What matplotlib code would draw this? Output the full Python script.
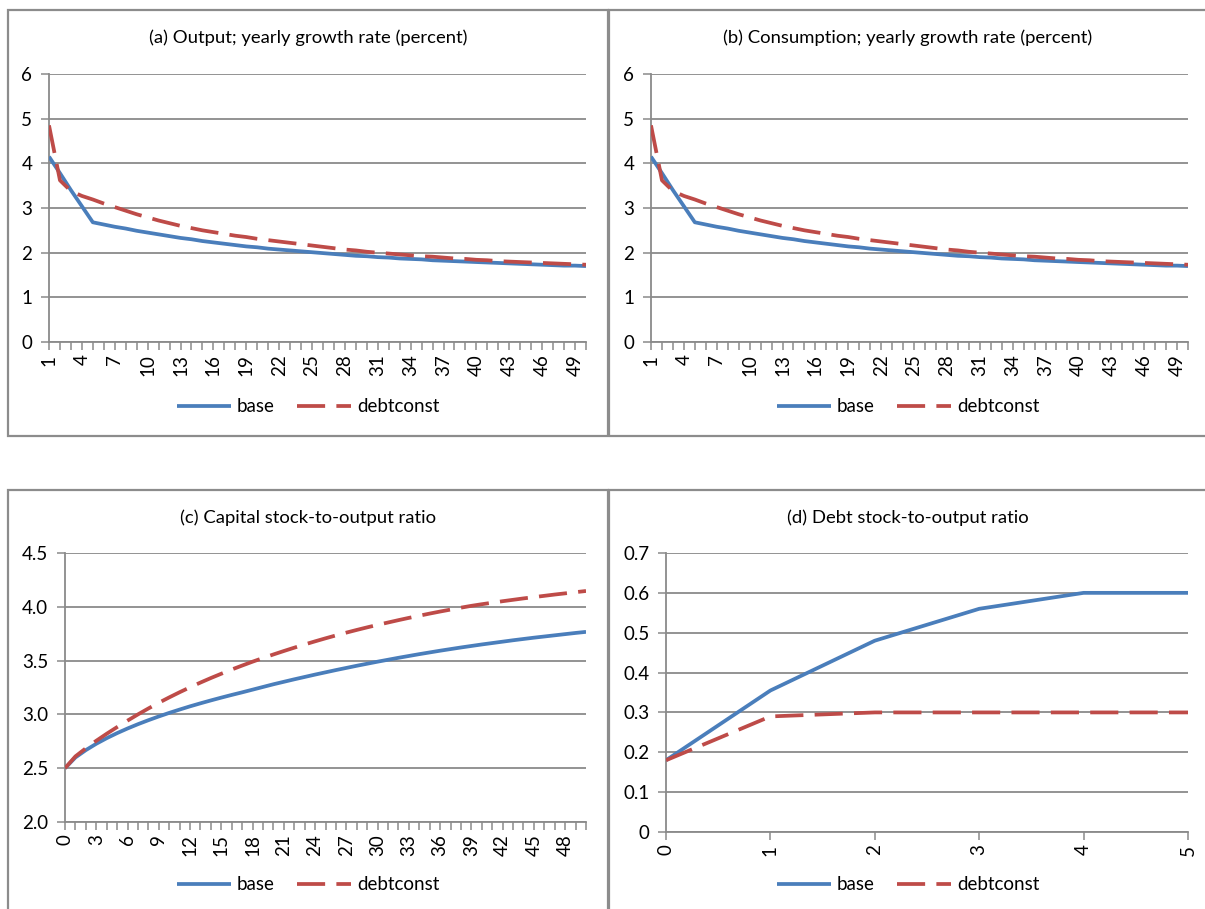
import matplotlib.pyplot as plt
import numpy as np
from matplotlib.patches import Rectangle

plt.rcParams['font.family'] = ['Lato', 'DejaVu Sans']

# growth rates, periods 1..50 (panels a and b)
periods = list(range(1, 51))
output_base = [4.15, 3.78, 3.40, 3.04, 2.68, 2.63, 2.58, 2.54, 2.49, 2.45,
               2.41, 2.37, 2.33, 2.30, 2.26, 2.23, 2.20, 2.17, 2.14, 2.12,
               2.09, 2.07, 2.05, 2.03, 2.01, 1.99, 1.97, 1.95, 1.93, 1.92,
               1.90, 1.89, 1.87, 1.86, 1.85, 1.83, 1.82, 1.81, 1.80, 1.79,
               1.78, 1.77, 1.76, 1.75, 1.74, 1.73, 1.72, 1.71, 1.71, 1.70]
output_debt = [4.85, 3.62, 3.38, 3.27, 3.19, 3.10, 3.02, 2.94, 2.86, 2.79,
               2.72, 2.66, 2.60, 2.55, 2.50, 2.46, 2.42, 2.38, 2.35, 2.31,
               2.28, 2.25, 2.22, 2.19, 2.16, 2.13, 2.10, 2.07, 2.05, 2.02,
               2.00, 1.98, 1.96, 1.94, 1.92, 1.91, 1.89, 1.87, 1.86, 1.84,
               1.83, 1.81, 1.80, 1.79, 1.78, 1.77, 1.76, 1.75, 1.74, 1.73]
cons_base = [4.15, 3.78, 3.40, 3.04, 2.68, 2.63, 2.58, 2.54, 2.49, 2.45,
             2.41, 2.37, 2.33, 2.30, 2.26, 2.23, 2.20, 2.17, 2.14, 2.12,
             2.09, 2.07, 2.05, 2.03, 2.01, 1.99, 1.97, 1.95, 1.93, 1.92,
             1.90, 1.89, 1.87, 1.86, 1.85, 1.83, 1.82, 1.81, 1.80, 1.79,
             1.78, 1.77, 1.76, 1.75, 1.74, 1.73, 1.72, 1.71, 1.71, 1.70]
cons_debt = [4.85, 3.62, 3.38, 3.27, 3.19, 3.10, 3.02, 2.94, 2.86, 2.79,
             2.72, 2.66, 2.60, 2.55, 2.50, 2.46, 2.42, 2.38, 2.35, 2.31,
             2.28, 2.25, 2.22, 2.19, 2.16, 2.13, 2.10, 2.07, 2.05, 2.02,
             2.00, 1.98, 1.96, 1.94, 1.92, 1.91, 1.89, 1.87, 1.86, 1.84,
             1.83, 1.81, 1.80, 1.79, 1.78, 1.77, 1.76, 1.75, 1.74, 1.73]

# capital stock-to-output, periods 0..50 (panel c)
years = list(range(0, 51))
capital_base = [2.500, 2.600, 2.668, 2.727, 2.779, 2.826, 2.869, 2.909, 2.946, 2.981,
                3.014, 3.045, 3.075, 3.103, 3.130, 3.156, 3.181, 3.205, 3.230, 3.255,
                3.280, 3.303, 3.326, 3.348, 3.370, 3.391, 3.412, 3.432, 3.452, 3.471,
                3.490, 3.508, 3.526, 3.543, 3.560, 3.576, 3.592, 3.607, 3.622, 3.636,
                3.650, 3.663, 3.676, 3.689, 3.701, 3.713, 3.724, 3.735, 3.746, 3.757,
                3.767]
capital_debt = [2.500, 2.610, 2.685, 2.755, 2.820, 2.882, 2.942, 3.000, 3.055, 3.108,
                3.158, 3.206, 3.252, 3.296, 3.338, 3.378, 3.417, 3.454, 3.490, 3.524,
                3.557, 3.589, 3.620, 3.650, 3.679, 3.707, 3.734, 3.760, 3.785, 3.809,
                3.832, 3.854, 3.876, 3.897, 3.917, 3.937, 3.956, 3.974, 3.992, 4.009,
                4.024, 4.038, 4.052, 4.065, 4.078, 4.090, 4.102, 4.114, 4.125, 4.136,
                4.147]

# debt stock-to-output, periods 0..5 (panel d)
debt_years = [0, 1, 2, 3, 4, 5]
debt_base = [0.18, 0.355, 0.48, 0.56, 0.60, 0.60]
debt_debt = [0.18, 0.29, 0.30, 0.30, 0.30, 0.30]

titles = ["(a) Output; yearly growth rate (percent)",
          "(b) Consumption; yearly growth rate (percent)",
          "(c) Capital stock-to-output ratio",
          "(d) Debt stock-to-output ratio"]

W, H = 1205, 909
BLUE = '#4a7ebb'
RED = '#be4b48'
GRID = '#8a8a8a'

fig = plt.figure(figsize=(W / 100, H / 100), dpi=100)


def px_axes(left, top, right, bottom):
    return fig.add_axes([left / W, 1 - bottom / H, (right - left) / W, (bottom - top) / H])


# panel frames
for (x0, y0, x1, y1) in [(8, 10, 608, 436), (609, 10, 1215, 436),
                         (8, 490, 608, 920), (609, 490, 1215, 920)]:
    fig.patches.append(Rectangle((x0 / W, 1 - y1 / H), (x1 - x0) / W, (y1 - y0) / H,
                                 transform=fig.transFigure, fill=False,
                                 edgecolor='#8c8c8c', linewidth=1.6))


def style(ax, x, base, debt, ylim, yticks, ylabels, xticks, title, tcx, tcy, lcy):
    ax.plot(x, base, color=BLUE, lw=2.7, solid_capstyle='butt', label='base', zorder=3)
    ax.plot(x, debt, color=RED, lw=2.7, dashes=(7.5, 3), label='debtconst', zorder=4)
    ax.set_xlim(x[0], x[-1])
    ax.set_ylim(*ylim)
    ax.set_yticks(yticks)
    ax.set_yticklabels(ylabels)
    ax.set_xticks(x)
    ax.set_xticklabels([str(v) if v in xticks else '' for v in x], rotation=90)
    for s in ['top', 'right']:
        ax.spines[s].set_visible(False)
    for s in ['left', 'bottom']:
        ax.spines[s].set_color(GRID)
        ax.spines[s].set_linewidth(1.3)
    ax.grid(axis='y', color=GRID, lw=1.3)
    ax.set_axisbelow(True)
    ax.tick_params(axis='both', colors=GRID, labelcolor='black', labelsize=13.5,
                   width=1.1, length=6)
    ax.tick_params(axis='y', pad=6)
    ax.tick_params(axis='x', pad=3)
    fig.text(tcx / W, 1 - tcy / H, title, ha='center', va='center', fontsize=13.3)
    ax.legend(loc='center', bbox_to_anchor=(tcx / W, 1 - lcy / H),
              bbox_transform=fig.transFigure, ncol=2, frameon=False,
              fontsize=13.5, handlelength=2.9, columnspacing=1.2,
              handletextpad=0.3)


ax = px_axes(49, 74, 586, 342)
style(ax, periods, output_base, output_debt, (0, 6), range(0, 7),
      [str(v) for v in range(0, 7)], range(1, 51, 3), titles[0], 308, 38, 407)

ax = px_axes(651, 74, 1188, 342)
style(ax, periods, cons_base, cons_debt, (0, 6), range(0, 7),
      [str(v) for v in range(0, 7)], range(1, 51, 3), titles[1], 908, 38, 407)

ax = px_axes(65, 553, 586, 822)
cy = np.arange(2.0, 4.51, 0.5)
style(ax, years, capital_base, capital_debt, (2.0, 4.5), cy,
      ['%.1f' % v for v in cy], range(0, 51, 3), titles[2], 308, 518, 885)

ax = px_axes(666, 553, 1188, 832)
dy = np.round(np.arange(0, 0.71, 0.1), 1)
style(ax, debt_years, debt_base, debt_debt, (0, 0.7), dy,
      ['0'] + ['%.1f' % v for v in dy[1:]], debt_years, titles[3], 908, 518, 885)

fig.savefig('out.png', dpi=100)
